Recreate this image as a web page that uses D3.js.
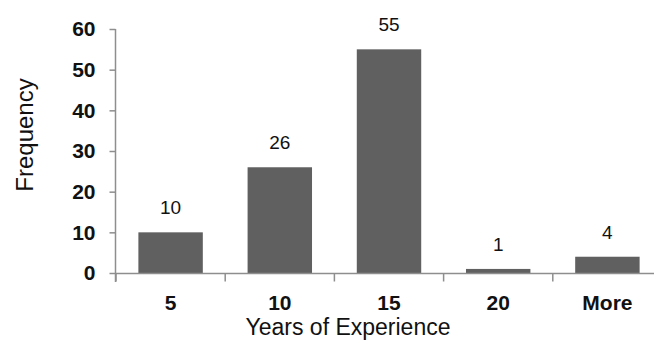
<!DOCTYPE html>
<html>
<head>
<meta charset="utf-8">
<script src="https://cdn.jsdelivr.net/npm/d3@7"></script>
<style>
  html, body { margin: 0; padding: 0; background: #fff; }
  svg { display: block; font-family: "Liberation Sans", Arial, sans-serif; }
</style>
</head>
<body>
<svg id="chart" width="654" height="341"></svg>
<script>
// Histogram of years of experience
const categories = ["5", "10", "15", "20", "More"];
const frequencies = [10, 26, 55, 1, 4];
const yTicks = [0, 10, 20, 30, 40, 50, 60];

const svg = d3.select("#chart");
const axisColor = "#8e8e8e";
const barColor = "#606060";

const x = d3.scaleBand()
  .domain(categories)
  .range([116, 662])
  .paddingInner(0.41)
  .paddingOuter(0.205);

const y = d3.scaleLinear()
  .domain([0, 60])
  .range([273, 29]);

// Bars
svg.append("g")
  .selectAll("rect")
  .data(frequencies)
  .join("rect")
  .attr("x", (d, i) => x(categories[i]))
  .attr("y", d => y(d))
  .attr("width", x.bandwidth())
  .attr("height", d => y(0) - y(d))
  .attr("fill", barColor);

// Value labels above bars
svg.append("g")
  .selectAll("text")
  .data(frequencies)
  .join("text")
  .attr("x", (d, i) => x(categories[i]) + x.bandwidth() / 2)
  .attr("y", d => y(d) - 18)
  .attr("text-anchor", "middle")
  .attr("font-size", 19)
  .attr("fill", "#111")
  .text(d => d);

// Y axis
const yAxis = svg.append("g")
  .attr("transform", "translate(115.5,0)")
  .call(d3.axisLeft(y).tickValues(yTicks).tickSize(6).tickPadding(14));
yAxis.select(".domain").remove();
yAxis.append("line")
  .attr("x1", 0).attr("x2", 0)
  .attr("y1", y(60)).attr("y2", 282)
  .attr("stroke", axisColor).attr("stroke-width", 1.5);
yAxis.selectAll(".tick line").attr("stroke", axisColor).attr("stroke-width", 1.5);
yAxis.selectAll(".tick text")
  .attr("font-size", 21)
  .attr("font-weight", "bold")
  .attr("fill", "#111")
  .attr("font-family", "'Liberation Sans', Arial, sans-serif");

// X axis
const xAxis = svg.append("g")
  .attr("transform", "translate(0,273.5)")
  .call(d3.axisBottom(x).tickSize(0).tickPadding(22));
xAxis.select(".domain").remove();
xAxis.append("line")
  .attr("x1", 116).attr("x2", 654)
  .attr("stroke", axisColor).attr("stroke-width", 1.5);
const gap = (x.step() - x.bandwidth()) / 2;
xAxis.selectAll(".boundary")
  .data(categories)
  .join("line")
  .attr("class", "boundary")
  .attr("x1", d => x(d) - gap).attr("x2", d => x(d) - gap)
  .attr("y1", 0).attr("y2", 8)
  .attr("stroke", axisColor).attr("stroke-width", 1.5);
xAxis.selectAll(".tick text")
  .attr("font-size", 21)
  .attr("font-weight", "bold")
  .attr("fill", "#111")
  .attr("font-family", "'Liberation Sans', Arial, sans-serif");

// Axis titles
svg.append("text")
  .attr("x", 348)
  .attr("y", 335)
  .attr("text-anchor", "middle")
  .attr("font-size", 23)
  .attr("fill", "#111")
  .text("Years of Experience");

svg.append("text")
  .attr("transform", "translate(33,135) rotate(-90)")
  .attr("text-anchor", "middle")
  .attr("font-size", 24)
  .attr("fill", "#111")
  .text("Frequency");
</script>
</body>
</html>
